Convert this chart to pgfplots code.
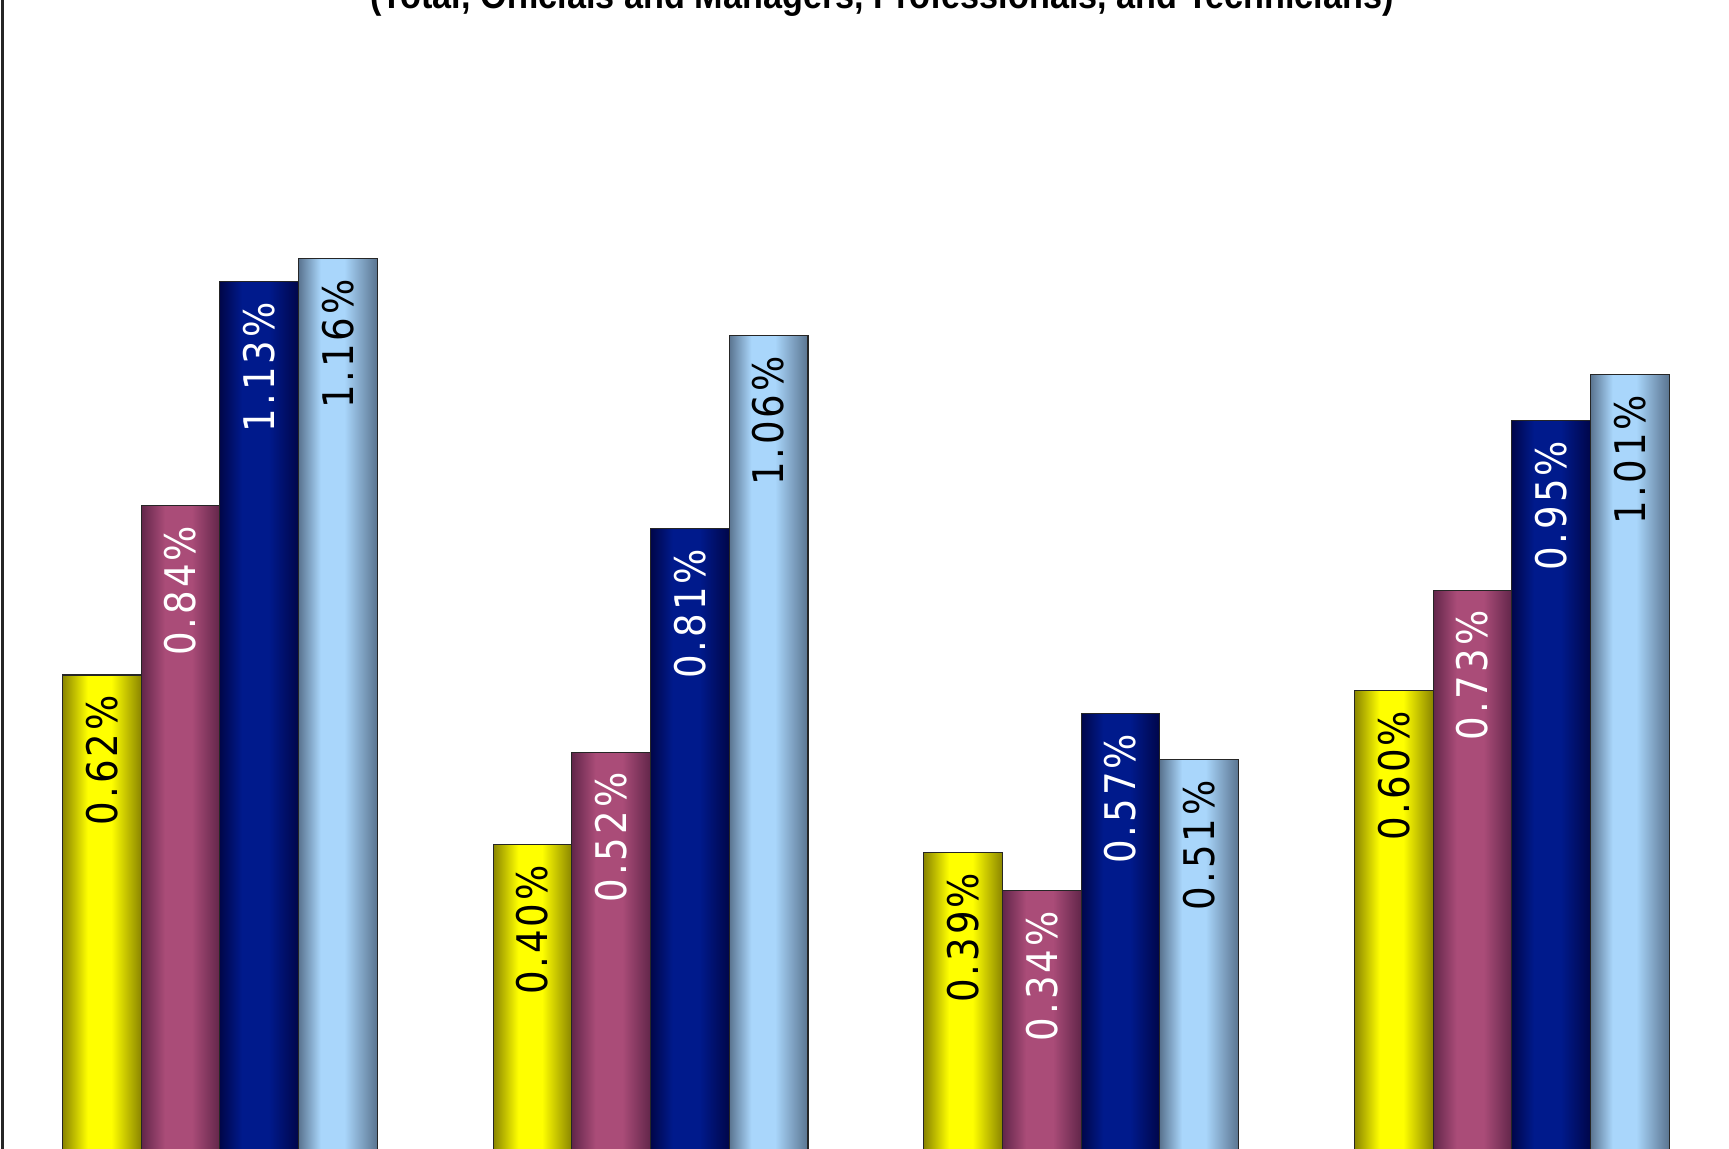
\documentclass[border=0pt]{standalone}
\usepackage{fontspec}
\usepackage{graphicx}
\usepackage{pgfplots}
\pgfplotsset{compat=1.18}
\newfontfamily\labfont{DejaVu Sans}[FakeStretch=0.88, LetterSpace=7]
\newfontfamily\titfont{Liberation Sans}
\definecolor{yelE}{HTML}{8A8500}
\definecolor{yelM}{HTML}{FFFF00}
\definecolor{pinE}{HTML}{62264A}
\definecolor{pinM}{HTML}{AA4C78}
\definecolor{navE}{HTML}{00064A}
\definecolor{navM}{HTML}{001A8C}
\definecolor{lbE}{HTML}{5A7490}
\definecolor{lbM}{HTML}{A9D6FB}
% shading spans 25bp..75bp across the bar
\pgfdeclarehorizontalshading{yelsh}{100bp}{color(0bp)=(yelE); color(25bp)=(yelE); color(41bp)=(yelM); color(56bp)=(yelM); color(75bp)=(yelE); color(100bp)=(yelE)}
\pgfdeclarehorizontalshading{pinsh}{100bp}{color(0bp)=(pinE); color(25bp)=(pinE); color(40bp)=(pinM); color(57bp)=(pinM); color(75bp)=(pinE); color(100bp)=(pinE)}
\pgfdeclarehorizontalshading{navsh}{100bp}{color(0bp)=(navE); color(25bp)=(navE); color(39bp)=(navM); color(56bp)=(navM); color(75bp)=(navE); color(100bp)=(navE)}
\pgfdeclarehorizontalshading{lbsh}{100bp}{color(0bp)=(lbE); color(25bp)=(lbE); color(39bp)=(lbM); color(54bp)=(lbM); color(75bp)=(lbE); color(100bp)=(lbE)}
\pgfplotsset{
  barbase/.style={ybar, bar width=7.87mm, draw=black!85, line width=0.3pt, shade},
  s1/.style={barbase, bar shift=-11.805mm, shading=yelsh, every node near coord/.append style={xshift=-11.805mm, rotate=90, text=black}},
  s2/.style={barbase, bar shift=-3.935mm, shading=pinsh, every node near coord/.append style={xshift=-3.935mm, rotate=90, text=white}},
  s3/.style={barbase, bar shift=3.935mm, shading=navsh, every node near coord/.append style={xshift=3.935mm, rotate=90, text=white}},
  s4/.style={barbase, bar shift=11.805mm, shading=lbsh, every node near coord/.append style={xshift=11.805mm, rotate=90, text=black}},
}
\begin{document}
\begin{tikzpicture}
\path[use as bounding box] (0mm,0mm) rectangle (172.9mm,114.8mm);
\clip (0mm,0mm) rectangle (172.9mm,114.8mm);
\begin{axis}[
  at={(0.25mm,-0.5mm)}, anchor=south west,
  scale only axis, width=172.46mm, height=115.65mm,
  xmin=-0.505, xmax=3.5, ymin=0, ymax=1.5,
  axis x line=none, axis y line*=left,
  xtick=\empty, ytick=\empty,
  axis line style={black!85, line width=0.6pt},
  clip=false,
  nodes near coords={\pgfmathprintnumber[fixed,fixed zerofill,precision=2,assume math mode=true]{\pgfplotspointmeta}\%},
  every node near coord/.append style={anchor=east, inner xsep=2.0mm, inner ysep=0pt, font=\labfont\fontsize{12}{13}\selectfont},
]
% Series 1 (yellow)
\addplot[s1] coordinates {(0,0.62)};
\addplot[s1] coordinates {(1,0.40)};
\addplot[s1] coordinates {(2,0.39)};
\addplot[s1] coordinates {(3,0.60)};
% Series 2 (pink)
\addplot[s2] coordinates {(0,0.84)};
\addplot[s2] coordinates {(1,0.52)};
\addplot[s2] coordinates {(2,0.34)};
\addplot[s2] coordinates {(3,0.73)};
% Series 3 (navy)
\addplot[s3] coordinates {(0,1.13)};
\addplot[s3] coordinates {(1,0.81)};
\addplot[s3] coordinates {(2,0.57)};
\addplot[s3] coordinates {(3,0.95)};
% Series 4 (light blue)
\addplot[s4] coordinates {(0,1.16)};
\addplot[s4] coordinates {(1,1.06)};
\addplot[s4] coordinates {(2,0.51)};
\addplot[s4] coordinates {(3,1.01)};
\node[anchor=base, inner sep=0pt] at (rel axis cs:0.510,0.9900)
  {\resizebox{102.3mm}{\height}{\titfont\bfseries\fontsize{10.7}{12}\selectfont (Total, Officials and Managers, Professionals, and Technicians)}};
\end{axis}
\end{tikzpicture}
\end{document}
